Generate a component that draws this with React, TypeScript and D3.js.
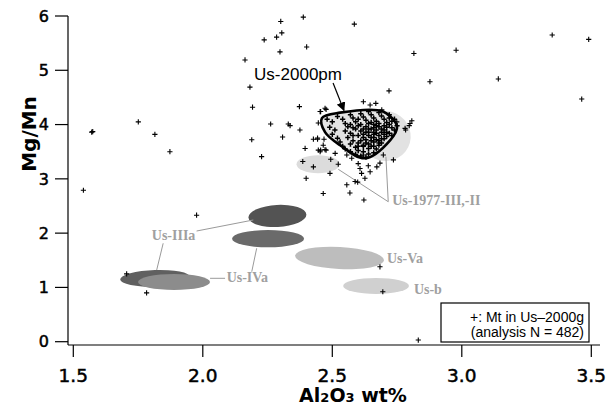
import React from "react"
import * as d3 from "d3"

// Mt analyses (Al2O3 wt%, Mg/Mn)
const scattered: [number, number][] = [
  [1.571, 3.86], [1.575, 3.87], [1.539, 2.79], [1.751, 4.05], [1.815, 3.82], [1.873, 3.50],
  [1.706, 1.25], [1.783, 0.90], [1.976, 2.33],
  [2.388, 5.98], [2.301, 5.90], [2.585, 5.85], [2.305, 5.69], [2.285, 5.61], [2.237, 5.56],
  [2.298, 5.34], [2.401, 5.43], [2.163, 5.19], [2.815, 5.31], [2.978, 5.37], [2.877, 4.79],
  [3.141, 4.84], [3.349, 5.65], [3.490, 5.57], [3.463, 4.47],
  [2.182, 4.69], [2.719, 4.62], [2.192, 4.32], [2.373, 4.33], [2.262, 4.01], [2.330, 4.01],
  [2.337, 3.98], [2.375, 3.90], [2.189, 3.72], [2.308, 3.77], [2.227, 3.41], [2.395, 3.56],
  [2.427, 3.73], [2.443, 3.73], [2.468, 3.73], [2.446, 4.03], [2.455, 4.24], [2.476, 4.28],
  [2.455, 3.53], [2.476, 3.53], [2.386, 3.32], [2.427, 3.22], [2.494, 3.36], [2.523, 3.27],
  [2.491, 3.10], [2.399, 3.01], [2.465, 2.73], [2.556, 2.89], [2.588, 2.95], [2.598, 2.94],
  [2.568, 2.74], [2.622, 2.61], [2.626, 3.01], [2.613, 3.10], [2.646, 3.13], [2.672, 3.22],
  [2.607, 3.19], [2.639, 3.24], [2.600, 3.28], [2.575, 3.38], [2.556, 3.44], [2.453, 3.50],
  [2.472, 3.54], [2.511, 3.47], [2.620, 3.44], [2.697, 3.44], [2.736, 3.35], [2.684, 3.29],
  [2.620, 4.42], [2.646, 4.36], [2.668, 4.39], [2.691, 4.27], [2.472, 4.30], [2.453, 4.24],
  [2.781, 3.93], [2.800, 4.02], [2.749, 4.05], [2.807, 4.07], [2.797, 3.98], [2.783, 3.90],
  [2.443, 3.75], [2.465, 3.62], [2.446, 3.53],
  [2.684, 1.38], [2.695, 0.92], [2.832, 0.03],
]

const cluster: [number, number][] = [
  [2.48, 4.10], [2.50, 4.05], [2.49, 3.95], [2.51, 3.90], [2.50, 3.82], [2.52, 3.75], [2.53, 3.68],
  [2.54, 3.60], [2.55, 3.55], [2.57, 3.50], [2.59, 3.45], [2.61, 3.42], [2.63, 3.40],
  [2.52, 4.15], [2.54, 4.10], [2.55, 4.02], [2.56, 3.96], [2.55, 3.88], [2.57, 3.84], [2.56, 3.76],
  [2.58, 3.70], [2.57, 3.64], [2.59, 3.58], [2.60, 3.52], [2.62, 3.50], [2.64, 3.46], [2.66, 3.48],
  [2.57, 4.18], [2.58, 4.12], [2.59, 4.05], [2.60, 3.98], [2.59, 3.92], [2.61, 3.88], [2.60, 3.80],
  [2.62, 3.76], [2.61, 3.70], [2.63, 3.66], [2.62, 3.60], [2.64, 3.56], [2.65, 3.60], [2.67, 3.55],
  [2.68, 3.62], [2.61, 4.20], [2.62, 4.14], [2.63, 4.08], [2.64, 4.02], [2.63, 3.96], [2.65, 3.92],
  [2.64, 3.86], [2.66, 3.82], [2.65, 3.76], [2.67, 3.72], [2.66, 3.68], [2.68, 3.70], [2.69, 3.66],
  [2.70, 3.74], [2.65, 4.18], [2.66, 4.12], [2.67, 4.06], [2.66, 4.00], [2.68, 3.96], [2.67, 3.90],
  [2.69, 3.86], [2.68, 3.80], [2.70, 3.82], [2.71, 3.78], [2.72, 3.84], [2.70, 3.90], [2.71, 3.95],
  [2.69, 4.16], [2.70, 4.10], [2.71, 4.04], [2.72, 4.00], [2.73, 4.06], [2.72, 4.12], [2.74, 4.10],
  [2.73, 3.94], [2.74, 3.90], [2.75, 3.98], [2.72, 4.18], [2.68, 4.22], [2.64, 4.24],
  [2.63, 3.86], [2.64, 3.80], [2.66, 3.94], [2.65, 4.04], [2.67, 3.98], [2.69, 3.92], [2.68, 4.02],
  [2.70, 3.98], [2.66, 3.86], [2.62, 3.92], [2.61, 4.00], [2.60, 4.10], [2.58, 3.94], [2.57, 4.00],
  [2.58, 3.80], [2.60, 3.66], [2.63, 3.72], [2.62, 3.82], [2.64, 3.92], [2.66, 3.76], [2.69, 3.74],
  [2.71, 3.86], [2.73, 3.80], [2.67, 3.84], [2.65, 3.70], [2.62, 3.62], [2.60, 3.60], [2.64, 3.64],
  [2.66, 3.60], [2.68, 3.66],
]

// outline of the Us-2000pm field
const us2000pm: [number, number][] = [
  [2.460, 4.12], [2.530, 4.22], [2.696, 4.24], [2.750, 3.96],
  [2.723, 3.71], [2.626, 3.38], [2.530, 3.62], [2.472, 3.86],
]

// other tephra fields: centre x, centre y, half-width (wt%), half-height (Mg/Mn), tilt, grey
const fields: [number, number, number, number, number, string][] = [
  [2.703, 3.79, 0.100, 0.46, 15, "#e2e2e2"],
  [2.445, 3.27, 0.083, 0.166, 0, "#dcdcdc"],
  [2.288, 2.316, 0.112, 0.203, -3, "#535353"],
  [2.252, 1.898, 0.139, 0.160, 0, "#6a6a6a"],
  [2.528, 1.542, 0.172, 0.203, 3, "#bdbdbd"],
  [2.669, 1.028, 0.127, 0.147, 0, "#d0d0d0"],
  [1.816, 1.168, 0.135, 0.153, -2, "#606060"],
  [1.889, 1.100, 0.139, 0.147, 0, "#8c8c8c"],
]

const fieldLabels: [string, number, number][] = [
  ["Us-1977-III,-II", 2.731, 2.52],
  ["Us-IIIa", 1.803, 1.874],
  ["Us-IVa", 2.092, 1.105],
  ["Us-Va", 2.711, 1.444],
  ["Us-b", 2.815, 0.879],
]

const leaders: [number, number, number, number][] = [
  [2.716, 2.579, 2.707, 3.408],
  [2.716, 2.579, 2.523, 3.176],
  [1.976, 2.039, 2.195, 2.242],
  [1.847, 1.813, 1.822, 1.321],
  [2.086, 1.168, 2.028, 1.168],
  [2.189, 1.290, 2.208, 1.721],
]

const xTicks = [1.5, 2.0, 2.5, 3.0, 3.5]
const yTicks = [0, 1, 2, 3, 4, 5, 6]

const W = 606
const H = 408

export default function App() {
  const x = d3.scaleLinear().domain([1.5, 3.5]).range([73.3, 591.3])
  const y = d3.scaleLinear().domain([0, 6]).range([341.7, 16])
  const axisX = 68
  const axisY = 345

  const outline = d3.line<[number, number]>()
    .x(d => x(d[0]))
    .y(d => y(d[1]))
    .curve(d3.curveCatmullRomClosed.alpha(0.5))

  const plus = (d: [number, number], i: number, w: number) => (
    <path key={i} d={`M${x(d[0]) - 2.6},${y(d[1])}h5.2M${x(d[0])},${y(d[1]) - 2.6}v5.2`}
      stroke="#000" strokeWidth={w} />
  )

  return (
    <div style={{ position: "fixed", left: 0, top: 0 }}>
      <svg width={W} height={H} style={{ display: "block", background: "#fff" }}>
        <defs>
          <marker id="arr" viewBox="0 0 10 10" refX="9" refY="5" markerWidth="9" markerHeight="9"
            markerUnits="userSpaceOnUse" orient="auto">
            <path d="M0,0L10,5L0,10z" fill="#000" />
          </marker>
        </defs>

        {fields.map((f, i) => {
          const cx = x(f[0]), cy = y(f[1])
          return (
            <ellipse key={i} cx={cx} cy={cy} rx={x(f[0] + f[2]) - cx} ry={cy - y(f[1] + f[3])}
              fill={f[5]} transform={`rotate(${f[4]},${cx},${cy})`} />
          )
        })}

        <path d={outline(us2000pm) || ""} fill="#e4e4e4" />

        {leaders.map((l, i) => (
          <line key={i} x1={x(l[0])} y1={y(l[1])} x2={x(l[2])} y2={y(l[3])} stroke="#9a9a9a" strokeWidth={1} />
        ))}

        {scattered.map((d, i) => plus(d, i, 1.1))}
        {cluster.map((d, i) => plus(d, i + 1000, 1.5))}

        <path d={outline(us2000pm) || ""} fill="none" stroke="#000" strokeWidth={2.6} />

        {fieldLabels.map((t, i) => (
          <text key={i} x={x(t[1])} y={y(t[2])} fontFamily="Liberation Serif" fontWeight="bold"
            fontSize={14} fill="#a0a0a0">{t[0]}</text>
        ))}

        <text x={x(2.198)} y={y(4.82)} fontFamily="Liberation Sans" fontSize={17} fill="#000">Us-2000pm</text>
        <line x1={x(2.503)} y1={y(4.765)} x2={x(2.545)} y2={y(4.26)} stroke="#000" strokeWidth={1.2} markerEnd="url(#arr)" />

        {/* axes */}
        <line x1={axisX} y1={y(6)} x2={axisX} y2={axisY} stroke="#000" strokeWidth={1.2} />
        <line x1={axisX} y1={axisY} x2={600} y2={axisY} stroke="#000" strokeWidth={1.2} />
        {yTicks.map(t => (
          <g key={t}>
            <line x1={axisX - 13} x2={axisX} y1={y(t)} y2={y(t)} stroke="#000" strokeWidth={1.2} />
            <text x={49} y={y(t)} dy="0.36em" textAnchor="end" fontFamily="DejaVu Sans" fontSize={16}
              stroke="#000" strokeWidth={0.5}>{t}</text>
          </g>
        ))}
        {xTicks.map(t => (
          <g key={t}>
            <line x1={x(t)} x2={x(t)} y1={axisY} y2={axisY + 12} stroke="#000" strokeWidth={1.2} />
            <text x={x(t)} y={382} textAnchor="middle" fontFamily="DejaVu Sans" fontSize={18.5}
              stroke="#000" strokeWidth={0.5}>{d3.format(".1f")(t)}</text>
          </g>
        ))}

        <text transform="translate(36,134) rotate(-90)" textAnchor="middle" fontFamily="DejaVu Sans"
          fontWeight="bold" fontSize={20}>Mg/Mn</text>
        <text x={353} y={402} textAnchor="middle" fontFamily="DejaVu Sans" fontWeight="bold" fontSize={19}>
          Al<tspan fontSize={13}>2</tspan>O<tspan fontSize={13}>3</tspan> wt%
        </text>

        {/* legend */}
        <rect x={441} y={303} width={148} height={39} fill="#fff" stroke="#000" strokeWidth={1.2} />
        <text x={584} y={322} textAnchor="end" fontFamily="Liberation Sans" fontSize={14}>+: Mt in Us–2000g</text>
        <text x={584} y={337} textAnchor="end" fontFamily="Liberation Sans" fontSize={14}>(analysis N = 482)</text>
      </svg>
    </div>
  )
}
